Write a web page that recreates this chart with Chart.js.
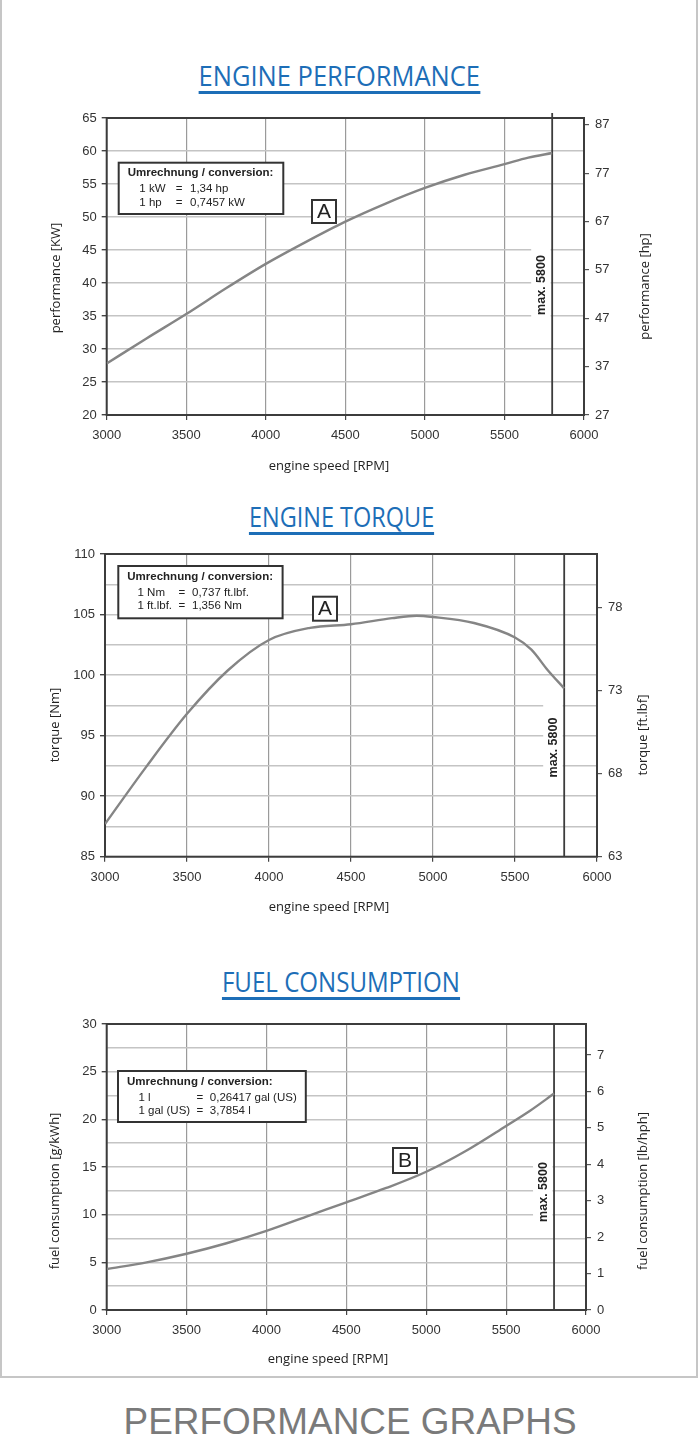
<!DOCTYPE html>
<html>
<head>
<meta charset="utf-8">
<script src="https://cdn.jsdelivr.net/npm/chart.js@4.4.1/dist/chart.umd.min.js"></script>
<style>
html,body{margin:0;padding:0;background:#fff;}
body{width:700px;height:1435px;position:relative;overflow:hidden;}
#frame{position:absolute;left:0;top:-2px;width:698px;height:1380px;box-sizing:border-box;border:2px solid #c6c6c6;}
.h{position:absolute;width:700px;text-align:center;white-space:nowrap;}
.h span{display:inline-block;color:#1d6eb7;font-family:"Open Sans",sans-serif;font-size:26.5px;line-height:26.5px;padding-bottom:1.5px;border-bottom:3.5px solid #1d6eb7;transform-origin:50% 50%;}
#foot{position:absolute;left:0;top:1403.7px;width:700px;text-align:center;white-space:nowrap;}
#foot span{display:inline-block;color:#7a7a7a;font-family:"Liberation Sans",Arial,sans-serif;font-size:36.5px;line-height:36.5px;transform-origin:50% 50%;}
canvas{position:absolute;left:0;}
</style>
</head>
<body>
<div id="frame"></div>
<div class="h" style="left:-10.7px;top:62.7px"><span data-w="281.3">ENGINE PERFORMANCE</span></div>
<div class="h" style="left:-8.7px;top:503.7px"><span data-w="185.3">ENGINE TORQUE</span></div>
<div class="h" style="left:-9px;top:969.3px"><span data-w="238">FUEL CONSUMPTION</span></div>
<div id="foot"><span data-w="453">PERFORMANCE GRAPHS</span></div>
<script>
// ---------- data ----------
const rpmTicks = [3000, 3500, 4000, 4500, 5000, 5500, 6000];
const rpmMin = 3000, rpmMax = 6000;
const maxRpm = 5800;

const rpmPower = [3000, 3250, 3500, 3750, 4000, 4250, 4500, 4750, 5000, 5250, 5500, 5650, 5800];
const powerKW  = [27.8, 31.6, 35.3, 39.2, 42.9, 46.2, 49.3, 52.0, 54.4, 56.4, 58.0, 59.0, 59.7];
const kwTicks  = [20, 25, 30, 35, 40, 45, 50, 55, 60, 65];
const kwLabels = [20, 25, 30, 35, 40, 45, 50, 55, 60, 65];
const hpTicks  = [27, 37, 47, 57, 67, 77, 87];
const hpMin = 27, hpMax = 88.4;

const rpmTorque = [3000, 3250, 3500, 3750, 4000, 4250, 4500, 4750, 4900, 5000, 5250, 5500, 5600, 5700, 5800];
const torqueNm  = [87.7, 92.4, 96.8, 100.4, 102.9, 103.9, 104.2, 104.7, 104.9, 104.8, 104.3, 103.1, 102.1, 100.4, 98.9];
const nmTicks   = [85, 87.5, 90, 92.5, 95, 97.5, 100, 102.5, 105, 107.5, 110];
const nmLabels  = [85, 90, 95, 100, 105, 110];
const ftlbfTicks = [63, 68, 73, 78];
const ftlbfMin = 63, ftlbfMax = 81.2;

const rpmFuel  = [3000, 3250, 3500, 3750, 4000, 4250, 4500, 4750, 5000, 5250, 5500, 5650, 5800];
const fuelGkWh = [4.3, 5.0, 5.9, 7.0, 8.3, 9.8, 11.3, 12.8, 14.5, 16.7, 19.3, 20.9, 22.7];
const gTicks   = [0, 2.5, 5, 7.5, 10, 12.5, 15, 17.5, 20, 22.5, 25, 27.5, 30];
const gLabels  = [0, 5, 10, 15, 20, 25, 30];
const lbTicks  = [0, 1, 2, 3, 4, 5, 6, 7];
const lbMin = 0, lbMax = 7.85;

// ---------- headings scale ----------
document.querySelectorAll('span[data-w]').forEach(s => {
  const w = s.getBoundingClientRect().width;
  s.style.transform = 'scaleX(' + (parseFloat(s.dataset.w) / w) + ')';
});

// ---------- chart builder ----------
const TICK_FONT = {family: 'Liberation Sans', size: 13};
function makeDecor(c) {
  return {
    id: 'decor',
    beforeDatasetsDraw(chart) {
      const {ctx, chartArea: a} = chart;
      const lx = chart.scales.x.getPixelForValue(maxRpm);
      const off = c.top;
      ctx.save();
      ctx.fillStyle = '#fff';
      ctx.fillRect(lx - 21, c.maxRect[0] - off, 19.5, c.maxRect[1] - c.maxRect[0]);
      ctx.strokeStyle = '#3c3c3c';
      ctx.lineWidth = 2;
      ctx.strokeRect(a.left, a.top, a.right - a.left, a.bottom - a.top);
      ctx.lineWidth = 1.8;
      ctx.beginPath();
      ctx.moveTo(lx, a.top - c.lineExt);
      ctx.lineTo(lx, a.bottom);
      ctx.stroke();
      ctx.translate(lx - 10.5, c.maxY - off);
      ctx.rotate(-Math.PI / 2);
      ctx.font = 'bold 12.5px "Liberation Sans"';
      ctx.fillStyle = '#222';
      ctx.textAlign = 'center';
      ctx.textBaseline = 'middle';
      ctx.fillText('max. ' + maxRpm, 0, 0);
      ctx.restore();
    },
    afterDatasetsDraw(chart) {
      const ctx = chart.ctx;
      const off = c.top;
      ctx.save();
      // conversion box
      const b = c.conv;
      ctx.fillStyle = '#fff';
      ctx.fillRect(b.x, b.y - off, b.w, b.h);
      ctx.strokeStyle = '#333';
      ctx.lineWidth = 2;
      ctx.strokeRect(b.x, b.y - off, b.w, b.h);
      ctx.fillStyle = '#222';
      ctx.textAlign = 'left';
      ctx.textBaseline = 'middle';
      ctx.font = 'bold 11.5px "Liberation Sans"';
      ctx.fillText('Umrechnung / conversion:', b.x + 9, b.y - off + 10.5);
      ctx.font = '11.5px "Liberation Sans"';
      b.rows.forEach((r, i) => {
        const yy = b.y - off + [26.5, 40][i];
        r.forEach((t, j) => ctx.fillText(t, b.x + b.cols[j], yy));
      });
      // letter box
      const L = c.letter;
      ctx.fillStyle = '#fff';
      ctx.fillRect(L.x, L.y - off, L.w, L.h);
      ctx.strokeRect(L.x, L.y - off, L.w, L.h);
      ctx.fillStyle = '#222';
      ctx.font = '21px "Liberation Sans"';
      ctx.textAlign = 'center';
      ctx.fillText(L.t, L.x + L.w / 2, L.y - off + L.h / 2 + 1);
      // axis titles
      ctx.font = '13px "Open Sans"';
      ctx.fillStyle = '#222';
      ctx.fillText(c.xTitle[2], c.xTitle[0], c.xTitle[1] - off);
      [c.lTitle, c.rTitle].forEach(t => {
        ctx.save();
        ctx.translate(t[0], t[1] - off);
        ctx.rotate(-Math.PI / 2);
        ctx.fillText(t[2], 0, 0);
        ctx.restore();
      });
      ctx.restore();
    }
  };
}

function makeChart(c) {
  const cv = document.createElement('canvas');
  cv.width = 700; cv.height = c.h;
  cv.style.top = c.top + 'px';
  cv.style.width = '700px';
  cv.style.height = c.h + 'px';
  document.body.appendChild(cv);
  return new Chart(cv, {
    type: 'line',
    data: {datasets: [{
      data: c.xs.map((x, i) => ({x: x, y: c.ys[i]})),
      borderColor: '#858585', borderWidth: 2.4, pointRadius: 0,
      cubicInterpolationMode: 'monotone', fill: false, yAxisID: 'y'
    }]},
    options: {
      responsive: false, animation: false,
      layout: {padding: {top: c.T, left: 0, right: 0, bottom: 0}},
      plugins: {legend: {display: false}, tooltip: {enabled: false}},
      scales: {
        x: {
          type: 'linear', min: rpmMin, max: rpmMax,
          afterBuildTicks: s => { s.ticks = rpmTicks.map(v => ({value: v})); },
          grid: {color: '#9a9a9a', lineWidth: 1.2, tickLength: 5, tickColor: '#444'},
          border: {display: false},
          ticks: {font: TICK_FONT, color: '#333', padding: 8, maxRotation: 0, autoSkip: false, callback: v => String(v)},
          afterFit: s => { s.height = c.h - c.B; }
        },
        y: {
          position: 'left', min: c.yMin, max: c.yMax,
          afterBuildTicks: s => { s.ticks = c.yTicks.map(v => ({value: v})); },
          grid: {color: '#c4c4c4', lineWidth: 1.4, tickLength: 5,
                 tickColor: ctx => (ctx.tick && c.yLabels.includes(ctx.tick.value)) ? '#444' : 'rgba(0,0,0,0)'},
          border: {display: false},
          ticks: {font: TICK_FONT, color: '#333', padding: 5, autoSkip: false,
                  callback: v => c.yLabels.includes(v) ? String(v) : ''},
          afterFit: s => { s.width = c.L; }
        },
        y2: {
          position: 'right', min: c.rMin, max: c.rMax,
          afterBuildTicks: s => { s.ticks = c.rTicks.map(v => ({value: v})); },
          grid: {drawOnChartArea: false, tickLength: 5, tickColor: '#555', lineWidth: 1.2},
          border: {display: false},
          ticks: {font: TICK_FONT, color: '#333', padding: 6, autoSkip: false, callback: v => String(v)},
          afterFit: s => { s.width = 700 - c.R; }
        }
      }
    },
    plugins: [makeDecor(c)]
  });
}

makeChart({
  top: 100, h: 385, L: 106.7, R: 584, T: 18, B: 315,
  xs: rpmPower, ys: powerKW,
  yMin: 20, yMax: 65, yTicks: kwTicks, yLabels: kwLabels,
  rMin: hpMin, rMax: hpMax, rTicks: hpTicks,
  maxY: 285, maxRect: [245, 325], lineExt: 5,
  conv: {x: 118.7, y: 162.7, w: 164.6, h: 51.3, cols: [20.6, 57, 71.3],
         rows: [['1 kW', '=', '1,34 hp'], ['1 hp', '=', '0,7457 kW']]},
  letter: {x: 312, y: 200, w: 24, h: 23, t: 'A'},
  lTitle: [55.8, 278, 'performance [KW]'],
  rTitle: [645, 286.5, 'performance [hp]'],
  xTitle: [329, 466, 'engine speed [RPM]']
});

makeChart({
  top: 535, h: 385, L: 105, R: 597, T: 19, B: 321.7,
  xs: rpmTorque, ys: torqueNm,
  yMin: 85, yMax: 110, yTicks: nmTicks, yLabels: nmLabels,
  rMin: ftlbfMin, rMax: ftlbfMax, rTicks: ftlbfTicks,
  maxY: 747.5, maxRect: [700, 790], lineExt: 0,
  conv: {x: 118.3, y: 566, w: 164.3, h: 52.3, cols: [19.2, 60.3, 73.7],
         rows: [['1 Nm', '=', '0,737 ft.lbf.'], ['1 ft.lbf.', '=', '1,356 Nm']]},
  letter: {x: 313, y: 596.7, w: 24, h: 24, t: 'A'},
  lTitle: [55, 725, 'torque [Nm]'],
  rTitle: [643, 735, 'torque [ft.lbf]'],
  xTitle: [329, 907.5, 'engine speed [RPM]']
});

makeChart({
  top: 1000, h: 375, L: 106.7, R: 586, T: 24, B: 310,
  xs: rpmFuel, ys: fuelGkWh,
  yMin: 0, yMax: 30, yTicks: gTicks, yLabels: gLabels,
  rMin: lbMin, rMax: lbMax, rTicks: lbTicks,
  maxY: 1192, maxRect: [1160, 1225], lineExt: 0,
  conv: {x: 118, y: 1071, w: 187.8, h: 51, cols: [20.4, 78.4, 91.8],
         rows: [['1 l', '=', '0,26417 gal (US)'], ['1 gal (US)', '=', '3,7854 l']]},
  letter: {x: 393, y: 1148, w: 24, h: 25, t: 'B'},
  lTitle: [55, 1191, 'fuel consumption [g/kWh]'],
  rTitle: [643, 1191, 'fuel consumption [lb/hph]'],
  xTitle: [328, 1359, 'engine speed [RPM]']
});
</script>
</body>
</html>
